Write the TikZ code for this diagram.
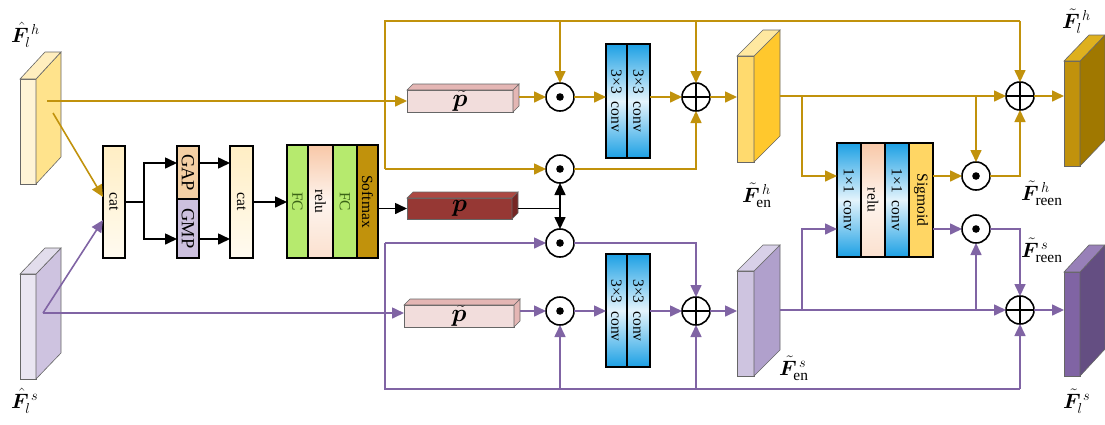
\documentclass[tikz,border=0pt]{standalone}
\usepackage{fontspec}
\setmainfont{Liberation Serif}
\usepackage{bm}
\usetikzlibrary{arrows.meta,calc}

\definecolor{gold}{RGB}{193,146,12}
\definecolor{purp}{RGB}{128,100,164}
% feature slabs: front / side / top
\definecolor{inhF}{RGB}{255,244,214}\definecolor{inhS}{RGB}{255,227,140}\definecolor{inhT}{RGB}{255,238,190}
\definecolor{insF}{RGB}{234,230,242}\definecolor{insS}{RGB}{206,195,224}\definecolor{insT}{RGB}{226,221,236}
\definecolor{enhF}{RGB}{255,218,110}\definecolor{enhS}{RGB}{255,200,45}\definecolor{enhT}{RGB}{255,232,160}
\definecolor{ensF}{RGB}{206,196,224}\definecolor{ensS}{RGB}{176,160,204}\definecolor{ensT}{RGB}{216,208,232}
\definecolor{outhF}{RGB}{193,146,12}\definecolor{outhS}{RGB}{160,120,0}\definecolor{outhT}{RGB}{222,176,30}
\definecolor{outsF}{RGB}{128,100,164}\definecolor{outsS}{RGB}{100,78,130}\definecolor{outsT}{RGB}{152,128,184}
% bars
\definecolor{ptF}{RGB}{242,221,220}\definecolor{ptS}{RGB}{228,182,180}
\definecolor{pF}{RGB}{150,56,52}\definecolor{pS}{RGB}{118,38,36}\definecolor{pT}{RGB}{172,72,66}
% layer colours
\definecolor{catC}{RGB}{255,238,196}
\definecolor{gapC}{RGB}{244,208,164}
\definecolor{gmpC}{RGB}{204,192,222}
\definecolor{fcC}{RGB}{182,234,110}
\definecolor{fcT}{RGB}{58,98,22}
\definecolor{reluC}{RGB}{248,200,168}
\definecolor{softC}{RGB}{193,146,12}
\definecolor{convC}{RGB}{28,160,228}
\definecolor{sigC}{RGB}{255,214,100}

% side and top faces of a box-like node
\newcommand\boxfaces[5]{%
  \filldraw[facedraw, fill=#4] (#1.north east) -- ++(#2,-#3) -- ($(#1.south east)+(#2,-#3)$) -- (#1.south east) -- cycle;
  \filldraw[facedraw, fill=#5] (#1.north west) -- ++(#2,-#3) -- ($(#1.north east)+(#2,-#3)$) -- (#1.north east) -- cycle;}

\tikzset{
  x=1pt, y=-1pt,
  blk/.style={draw=black, line width=1.3pt, inner sep=0pt, outer sep=0pt, font=\fontsize{15.5}{17}\selectfont},
  facedraw/.style={draw=black!60, line width=0.6pt},
  slab/.style={facedraw, inner sep=0pt, outer sep=0pt},
  bar/.style={facedraw, inner sep=0pt, outer sep=0pt, minimum height=22pt, font=\fontsize{23}{23}\selectfont},
  conv/.style={blk, top color=convC, bottom color=convC, middle color=convC!12},
  relu/.style={blk, top color=reluC, bottom color=reluC!55, middle color=reluC!20},
  fc/.style={blk, fill=fcC, text=fcT},
  opc/.style={circle, draw=black, line width=1.6pt, fill=white, minimum size=28pt, inner sep=0pt, outer sep=0pt},
  odot/.style={opc, path picture={\fill[black] (path picture bounding box.center) circle[radius=3.8pt];}},
  oplus/.style={opc, path picture={\draw[line width=1.6pt] (path picture bounding box.west) -- (path picture bounding box.east) (path picture bounding box.north) -- (path picture bounding box.south);}},
  gl/.style={draw=gold, line width=1.6pt},
  pl/.style={draw=purp, line width=1.6pt},
  bl/.style={draw=black, line width=1.6pt},
  tip/.style={-{Triangle[length=12pt,width=11pt]}},
  garr/.style={gl, tip},
  parr/.style={pl, tip},
  barr/.style={bl, tip},
  darr/.style={bl, {Triangle[length=12pt,width=11pt]}-{Triangle[length=12pt,width=11pt]}},
  lab/.style={inner sep=0pt, anchor=base west, font=\fontsize{22}{24}\selectfont},
}

\begin{document}
\begin{tikzpicture}
\useasboundingbox (0,0) rectangle (1105,424);

% ---------- feature slabs ----------
\node[slab, fill=inhF, minimum width=16pt, minimum height=105pt] (inh) at (28,131.5) {};
\boxfaces{inh}{25}{27}{inhS}{inhT}
\node[slab, fill=insF, minimum width=16pt, minimum height=105pt] (ins) at (28,326.5) {};
\boxfaces{ins}{25}{26}{insS}{insT}
\node[slab, fill=enhF, minimum width=17pt, minimum height=106pt] (enh) at (745.5,109) {};
\boxfaces{enh}{26}{26}{enhS}{enhT}
\node[slab, fill=ensF, minimum width=17pt, minimum height=105pt] (ens) at (745.5,323.5) {};
\boxfaces{ens}{26}{26}{ensS}{ensT}
\node[slab, fill=outhF, minimum width=16pt, minimum height=105pt] (outh) at (1072,113.5) {};
\boxfaces{outh}{25}{26}{outhS}{outhT}
\node[slab, fill=outsF, minimum width=16pt, minimum height=104pt] (outs) at (1072,324) {};
\boxfaces{outs}{25}{27}{outsS}{outsT}

% ---------- attention branch ----------
\node[blk, top color=catC, bottom color=catC!25, minimum width=22pt, minimum height=112pt] (cat1) at (114,202) {\rotatebox{-90}{cat}};
\node[blk, fill=gapC, minimum width=22pt, minimum height=53pt, font=\fontsize{18.5}{19}\selectfont] (gap) at (188,172.5) {\rotatebox{-90}{GAP}};
\node[blk, fill=gmpC, minimum width=22pt, minimum height=59pt, font=\fontsize{18.5}{19}\selectfont] (gmp) at (188,228.5) {\rotatebox{-90}{GMP}};
\node[blk, top color=catC, bottom color=catC!25, minimum width=23pt, minimum height=112pt] (cat2) at (241.5,202) {\rotatebox{-90}{cat}};
\node[fc, minimum width=21pt, minimum height=113pt] (fc1) at (297.5,201.5) {\rotatebox{-90}{FC}};
\node[relu, minimum width=25pt, minimum height=113pt] (relu1) at (320.5,201.5) {\rotatebox{-90}{relu}};
\node[fc, minimum width=24pt, minimum height=113pt] (fc2) at (345,201.5) {\rotatebox{-90}{FC}};
\node[blk, fill=softC, minimum width=21pt, minimum height=113pt] (soft) at (367.5,201.5) {\rotatebox{-90}{Softmax}};

% ---------- weight bars ----------
\node[bar, fill=ptF, minimum width=106pt] (pt) at (460,101) {$\tilde{\bm p}$};
\boxfaces{pt}{6}{6}{ptS}{ptS}
\node[bar, fill=pF, minimum width=105pt, minimum height=21pt] (pb) at (459.5,208.5) {$\bm p$};
\boxfaces{pb}{6}{6}{pS}{pT}
\node[bar, fill=ptF, minimum width=110pt] (ps) at (459,316) {$\tilde{\bm p}$};
\boxfaces{ps}{6}{6}{ptS}{ptS}

% ---------- operators ----------
\node[odot] (od1) at (560,97) {};
\node[odot] (od2) at (560,169) {};
\node[odot] (od3) at (560,243) {};
\node[odot] (od4) at (560,311) {};
\node[oplus] (op1) at (696,97) {};
\node[oplus] (op2) at (696,311) {};
\node[odot] (od5) at (976,176) {};
\node[odot] (od6) at (976,229) {};
\node[oplus] (op3) at (1020,96) {};
\node[oplus] (op4) at (1020,310) {};

% ---------- convolution stacks ----------
\node[conv, minimum width=21pt, minimum height=114pt] (c3a) at (616.5,101) {\rotatebox{-90}{3×3\ \ conv}};
\node[conv, minimum width=23pt, minimum height=114pt] (c3b) at (638.5,101) {\rotatebox{-90}{3×3\ \ conv}};
\node[conv, minimum width=21pt, minimum height=113pt] (c3c) at (616.5,310.5) {\rotatebox{-90}{3×3\ \ conv}};
\node[conv, minimum width=23pt, minimum height=113pt] (c3d) at (638.5,310.5) {\rotatebox{-90}{3×3\ \ conv}};

\node[conv, minimum width=24pt, minimum height=114pt] (k1) at (849,200) {\rotatebox{-90}{1×1\ \ conv}};
\node[relu, minimum width=24pt, minimum height=114pt] (k2) at (873,200) {\rotatebox{-90}{relu}};
\node[conv, minimum width=24pt, minimum height=114pt] (k3) at (897,200) {\rotatebox{-90}{1×1\ \ conv}};
\node[blk, fill=sigC, minimum width=24pt, minimum height=114pt] (sg) at (921,200) {\rotatebox{-90}{Sigmoid}};

% ---------- junction points ----------
\coordinate (hsrc) at (47,101);
\coordinate (hdia) at (53,113);
\coordinate (ssrc) at (43,313);
\coordinate (gtop) at (385,21);
\coordinate (gbot) at (385,169);
\coordinate (pbot) at (385,389);
\coordinate (sp) at (144,202);
\coordinate (ya) at (0,163);
\coordinate (yb) at (0,239);
\coordinate (hout) at (780,96);
\coordinate (sout) at (780,310);
\coordinate (hb) at (802,96);
\coordinate (sb) at (802,310);

% ---------- black connectors ----------
\draw[bl] (cat1.east |- sp) -- (sp);
\draw[barr] (sp) |- (gap.west |- ya);
\draw[barr] (sp) |- (gmp.west |- yb);
\draw[barr] (gap.east |- ya) -- (cat2.west |- ya);
\draw[barr] (gmp.east |- yb) -- (cat2.west |- yb);
\draw[barr] (cat2.east) -- (cat2.east -| fc1.west);
\draw[barr] (soft.east |- pb) -- (pb.west);
\draw[bl] ([xshift=6pt]pb.east) -- (od2 |- pb);
\draw[darr] (od2) -- (od3);

% ---------- gold path ----------
\draw[garr] (hdia) -- (cat1.west |- 0,197);
\draw[garr] (hsrc) -- (hsrc -| pt.west);
\draw[gl] (gbot) -- (gtop) -- (op3 |- gtop);
\draw[garr] (op3 |- gtop) -- (op3);
\draw[garr] (od1 |- gtop) -- (od1);
\draw[garr] (op1 |- gtop) -- (op1);
\draw[garr] (gbot) -- (od2);
\draw[garr] ([xshift=6pt]pt.east |- od1) -- (od1);
\draw[garr] (od1) -- (od1 -| c3a.west);
\draw[garr] (op1 -| c3b.east) -- (op1);
\draw[garr] (od2) -| (op1);
\draw[garr] (op1) -- (op1 -| enh.west);
\draw[garr] (hout) -- (op3);
\draw[garr] (hb) |- (k1.west |- od5);
\draw[garr] (od5 |- hout) -- (od5);
\draw[garr] (sg.east |- od5) -- (od5);
\draw[garr] (od5) -| (op3);
\draw[garr] (op3) -- (op3 -| outh.west);

% ---------- purple path ----------
\draw[parr] (ssrc) -- (cat1.west |- 0,220);
\draw[parr] (ssrc) -- (ssrc -| ps.west);
\draw[pl] (od3 -| gbot) -- (pbot) -- (op4 |- pbot);
\draw[parr] (od3 -| gbot) -- (od3);
\draw[parr] (op4 |- pbot) -- (op4);
\draw[parr] (od4 |- pbot) -- (od4);
\draw[parr] (op2 |- pbot) -- (op2);
\draw[parr] ([xshift=6pt]ps.east |- od4) -- (od4);
\draw[parr] (od4) -- (od4 -| c3c.west);
\draw[parr] (op2 -| c3d.east) -- (op2);
\draw[parr] (od3) -| (op2);
\draw[parr] (op2) -- (op2 -| ens.west);
\draw[parr] (sout) -- (op4);
\draw[parr] (sb) |- (k1.west |- od6);
\draw[parr] (od6 |- sout) -- (od6);
\draw[parr] (sg.east |- od6) -- (od6);
\draw[parr] (od6) -| (op4);
\draw[parr] (op4) -- (op4 -| outs.west);

% ---------- labels ----------
\node[lab] (lin1) at (11,42) {$\hat{\bm F}_{l}^{\,h}$};
\node[lab] (lin2) at (11,408) {$\hat{\bm F}_{l}^{\,s}$};
\node[lab] (lout1) at (1062,28) {$\tilde{\bm F}_{l}^{\,h}$};
\node[lab] (lout2) at (1063,408) {$\tilde{\bm F}_{l}^{\,s}$};
\node[lab] (len1) at (742,202) {$\tilde{\bm F}_{\mathrm{en}}^{\,h}$};
\node[lab] (len2) at (779,375) {$\tilde{\bm F}_{\mathrm{en}}^{\,s}$};
\node[lab] (lre1) at (1021,200) {$\tilde{\bm F}_{\mathrm{reen}}^{\,h}$};
\node[lab] (lre2) at (1021,257) {$\tilde{\bm F}_{\mathrm{reen}}^{\,s}$};
\end{tikzpicture}
\end{document}
